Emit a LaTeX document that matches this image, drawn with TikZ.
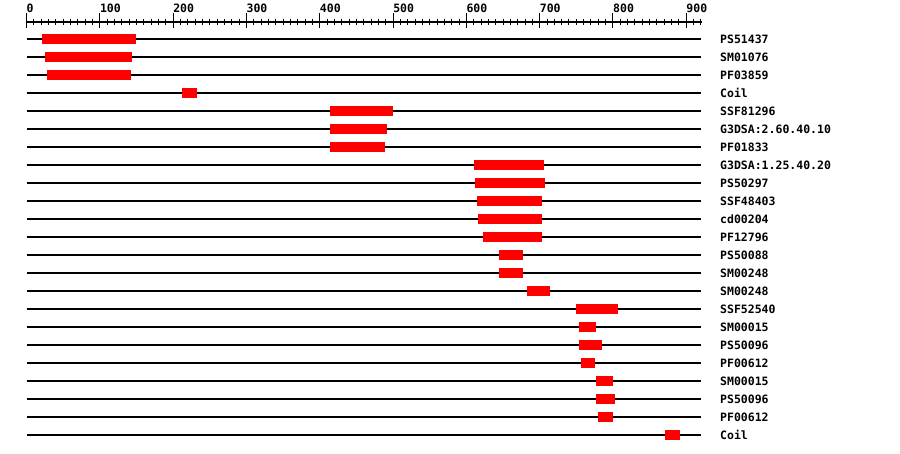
\documentclass[tikz,border=0pt]{standalone}
\usepackage{fontspec}
\setmonofont{DejaVu Sans Mono}
\begin{document}
\begin{tikzpicture}[x=1pt,y=-1pt,
  track/.style={line width=1.3pt, black},
  tick/.style={line width=1pt, black},
  bar/.style={fill={rgb,255:red,255;green,0;blue,0}, draw=none},
  lbl/.style={anchor=base west, inner sep=0pt, font=\ttfamily\bfseries\fontsize{11.5}{12}\selectfont}]
\useasboundingbox (0,0) rectangle (900,454);
\fill[white] (0,0) rectangle (900,454);
% axis
\draw[track] (26.5,22) coordinate (axL) -- (701.5,22) coordinate (axR);
\foreach \i in {0,...,92}
  \draw[tick] ({26.5+\i*7.331},19) -- ++(0,6);
\foreach \v in {0,100,...,900}{
  \draw[tick] ({26.5+\v*0.7331},13) -- ++(0,15);
  \node[lbl] at ({26.5+\v*0.7331},12.3) {\v};
}
% tracks
\foreach [count=\r from 0] \name/\a/\b in {
  PS51437/42/136, SM01076/45/132, PF03859/47/131, Coil/182/197,
  SSF81296/330/393, G3DSA:2.60.40.10/330/387, PF01833/330/385,
  G3DSA:1.25.40.20/474/544, PS50297/475/545, SSF48403/477/542,
  cd00204/478/542, PF12796/483/542, PS50088/499/523, SM00248/499/523,
  SM00248/527/550, SSF52540/576/618, SM00015/579/596, PS50096/579/602,
  PF00612/581/595, SM00015/596/613, PS50096/596/615, PF00612/598/613,
  Coil/665/680}{
  \pgfmathsetmacro{\yy}{39+18*\r}
  \draw[track] (26.5,\yy) -- (701,\yy);
  \fill[bar] (\a,\yy-4.6) rectangle (\b,\yy+4.6);
  \node[lbl] (lab\r) at (720,\yy+4.2) {\name};
}
\end{tikzpicture}
\end{document}
